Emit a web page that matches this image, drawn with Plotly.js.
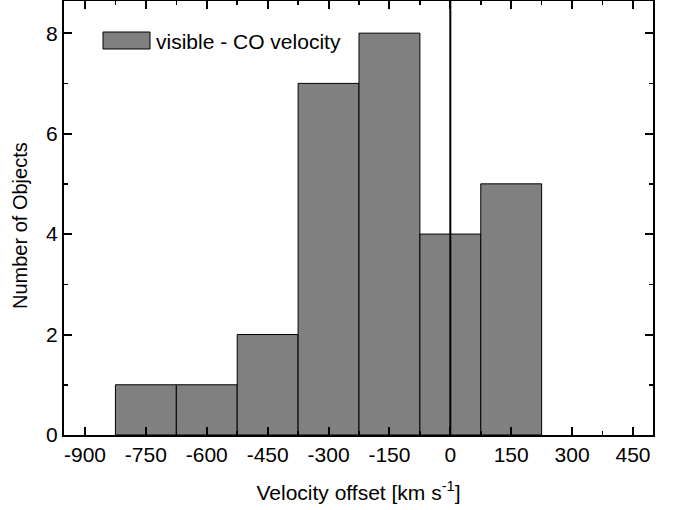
<!DOCTYPE html>
<html>
<head>
<meta charset="utf-8">
<script src="https://cdn.plot.ly/plotly-3.0.1.min.js"></script>
<style>html,body{margin:0;padding:0;background:#fff;}#chart{width:673px;height:510px;}</style>
</head>
<body>
<div id="chart"></div>
<script>
const binCenters = [-750, -600, -450, -300, -150, 0, 150];
const counts = [1, 1, 2, 7, 8, 4, 5];
const binWidth = 150;
const xTickVals = [-900, -750, -600, -450, -300, -150, 0, 150, 300, 450];
const yTickVals = [0, 2, 4, 6, 8];
const seriesName = 'visible - CO velocity';
const xTitle = 'Velocity offset [km s<sup>-1</sup>]';
const yTitle = 'Number of Objects';

const FONT = 'Liberation Sans, Arial, sans-serif';
const FS = 21;
const trace = {
  type: 'bar',
  x: binCenters,
  y: counts,
  width: binCenters.map(() => binWidth),
  marker: {color: '#808080', line: {color: '#000', width: 1}},
  name: seriesName,
  showlegend: false,
  hoverinfo: 'x+y'
};

const axisCommon = {
  showgrid: false, zeroline: false, showline: true, linecolor: '#000', linewidth: 2,
  mirror: 'allticks', ticks: 'inside', ticklen: 8, tickwidth: 2, tickcolor: '#000',
  tickfont: {family: FONT, size: FS, color: '#000'}
};

// plot area in pixels
const L = 64, T = 1, W = 589, H = 434;

const layout = {
  width: 673, height: 510,
  margin: {l: L, r: 673 - L - W, t: T, b: 510 - T - H},
  paper_bgcolor: '#fff', plot_bgcolor: '#fff',
  font: {family: FONT, color: '#000'},
  bargap: 0,
  xaxis: Object.assign({}, axisCommon, {
    range: [-951.7, 499.3], tickvals: xTickVals, ticktext: xTickVals.map(String),
    minor: {dtick: 75, tick0: 0, ticks: 'inside', ticklen: 4, tickwidth: 1.5, tickcolor: '#000'},
    title: {text: xTitle, font: {family: FONT, size: FS}, standoff: 20}
  }),
  yaxis: Object.assign({}, axisCommon, {
    range: [0, 8.64], tickvals: yTickVals,
    minor: {dtick: 1, tick0: 0, ticks: 'inside', ticklen: 4, tickwidth: 1.5, tickcolor: '#000'}
  }),
  shapes: [
    {type: 'line', xref: 'x', yref: 'paper', x0: 0, x1: 0, y0: 0, y1: 1, line: {color: '#000', width: 2}},
    {type: 'rect', xref: 'paper', yref: 'paper', x0: (103-L)/W, x1: (150-L)/W, y0: 1-(49-T)/H, y1: 1-(32-T)/H,
     fillcolor: '#808080', line: {color: '#000', width: 1}}
  ],
  annotations: [
    {xref: 'paper', yref: 'paper', x: (154-L)/W, y: 1-(41-T)/H, xanchor: 'left', yanchor: 'middle',
     text: seriesName, showarrow: false, font: {family: FONT, size: FS, color: '#000'}},
    {xref: 'paper', yref: 'paper', x: (20-L)/W, y: 1-(226-T)/H, xanchor: 'center', yanchor: 'middle',
     textangle: -90, text: yTitle, showarrow: false, font: {family: FONT, size: 20, color: '#000'}}
  ]
};

Plotly.newPlot('chart', [trace], layout, {displayModeBar: false, staticPlot: true});
</script>
</body>
</html>
